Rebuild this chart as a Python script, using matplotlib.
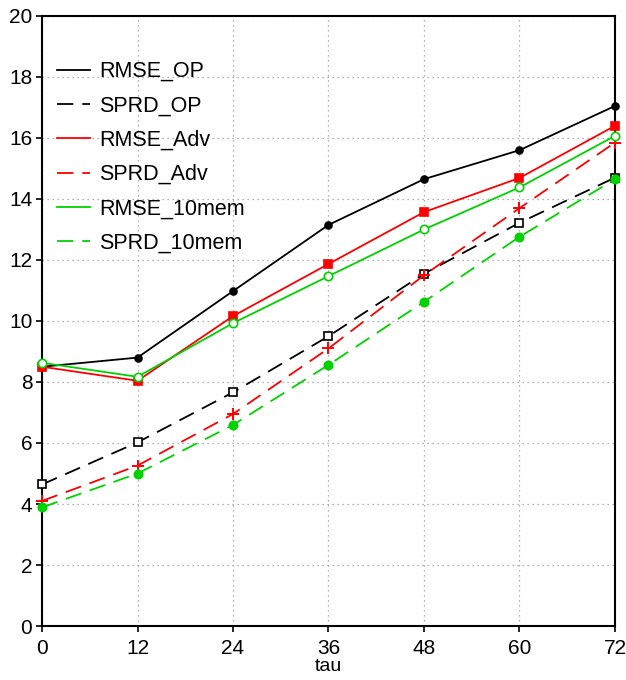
import matplotlib
matplotlib.use("Agg")
import matplotlib.pyplot as plt
from matplotlib.lines import Line2D

tau = [0, 12, 24, 36, 48, 60, 72]
rmse_op = [8.50, 8.80, 10.98, 13.15, 14.65, 15.60, 17.05]
sprd_op = [4.64, 6.02, 7.66, 9.50, 11.55, 13.22, 14.70]
rmse_adv = [8.50, 8.04, 10.16, 11.87, 13.57, 14.69, 16.40]
sprd_adv = [4.10, 5.26, 6.95, 9.10, 11.50, 13.70, 15.85]
rmse_10mem = [8.63, 8.17, 9.93, 11.47, 13.00, 14.38, 16.07]
sprd_10mem = [3.89, 5.00, 6.59, 8.56, 10.63, 12.76, 14.65]

labels = ["RMSE_OP", "SPRD_OP", "RMSE_Adv", "SPRD_Adv", "RMSE_10mem", "SPRD_10mem"]
series = [rmse_op, sprd_op, rmse_adv, sprd_adv, rmse_10mem, sprd_10mem]

BLACK = "#000000"
RED = "#ff0000"
GREEN = "#00d200"
DASH = (0, (9, 5))
styles = [
    dict(color=BLACK, ls="-", marker="o", mfc=BLACK, ms=5),
    dict(color=BLACK, ls=DASH, marker="s", mfc="white", ms=6),
    dict(color=RED, ls="-", marker="s", mfc=RED, ms=6),
    dict(color=RED, ls=DASH, marker="+", mfc=RED, ms=8, mew=1.4),
    dict(color=GREEN, ls="-", marker="o", mfc="white", ms=6),
    dict(color=GREEN, ls=DASH, marker="o", mfc=GREEN, ms=6),
]

plt.rcParams["font.family"] = ["Liberation Sans", "DejaVu Sans"]

fig = plt.figure(figsize=(6.26, 6.8), dpi=100)
ax = fig.add_axes([0.0671, 0.0794, 0.9153, 0.8971])

for y, lab, st in zip(series, labels, styles):
    ax.plot(tau, y, color=st["color"], ls=st["ls"], lw=1.3,
            marker=st["marker"], markersize=st["ms"],
            markerfacecolor=st["mfc"], markeredgecolor=st["color"],
            markeredgewidth=st.get("mew", 1.2), label=lab,
            clip_on=False, zorder=3)

ax.set_xlim(0, 72)
ax.set_ylim(0, 20)
ax.set_xticks(tau)
ax.set_yticks(range(0, 21, 2))
ax.grid(True, color="#999999", ls=(0, (1, 3)), lw=0.9)
ax.tick_params(direction="out", length=4, width=1.2, labelsize=15)
ax.tick_params(axis="x", pad=5)
ax.tick_params(axis="y", pad=3)
for s in ax.spines.values():
    s.set_linewidth(1.5)
ax.set_xlabel("tau", fontsize=14, labelpad=0)

leg_handles = [Line2D([], [], color=st["color"], ls=st["ls"], lw=1.3) for st in styles]
ax.legend(leg_handles, labels, loc="upper left", bbox_to_anchor=(0.026, 0.926),
          frameon=False, fontsize=15.5, handlelength=1.55, handletextpad=0.4,
          labelspacing=0.62, borderaxespad=0, borderpad=0)

fig.savefig("out.png", dpi=100)
